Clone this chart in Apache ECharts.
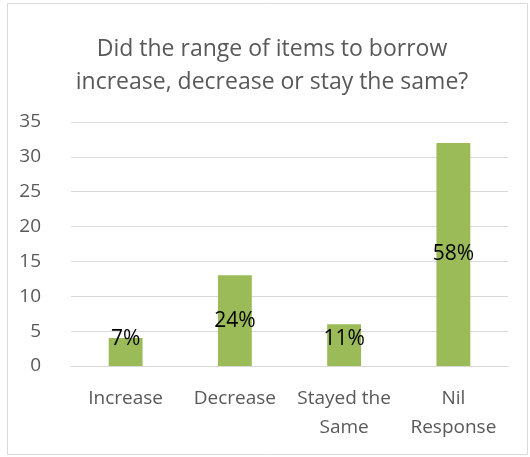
<!DOCTYPE html>
<html>
<head>
<meta charset="utf-8">
<script src="https://cdn.jsdelivr.net/npm/echarts@6/dist/echarts.min.js"></script>
<style>
  html, body { margin: 0; padding: 0; background: #fff; }
  #chart { width: 530px; height: 457px; }
</style>
</head>
<body>
<div id="chart"></div>
<script>
// Survey responses: change in the range of items to borrow
const categories = ['Increase', 'Decrease', 'Stayed the\nSame', 'Nil\nResponse'];
const counts = [4, 13, 6, 32];
const yTicks = [0, 5, 10, 15, 20, 25, 30, 35];

const total = counts.reduce((a, b) => a + b, 0);
const FONT = '"Open Sans", "Noto Sans", sans-serif';

// plot area geometry
const GRID = { left: 71, right: 22, top: 122, bottom: 91 };
const plotHeight = 457 - GRID.top - GRID.bottom;
const yMax = yTicks[yTicks.length - 1];

// keep short-bar labels clear of the baseline
const barData = counts.map(v => {
  const h = v / yMax * plotHeight;
  const lift = Math.max(h / 2, 27) - h / 2;
  return { value: v, label: { offset: [0, -lift] } };
});

const chart = echarts.init(document.getElementById('chart'));
chart.setOption({
  animation: false,
  backgroundColor: '#ffffff',
  title: {
    text: 'Did the range of items to borrow\nincrease, decrease or stay the same?',
    left: 267,
    top: 28,
    textAlign: 'center',
    textStyle: {
      fontFamily: FONT,
      fontSize: 23,
      fontWeight: 'normal',
      color: '#595959',
      lineHeight: 33
    }
  },
  graphic: [{
    type: 'rect',
    shape: { x: 7.5, y: 3.5, width: 520, height: 451 },
    style: { fill: 'none', stroke: '#d9d9d9', lineWidth: 1 },
    silent: true
  }],
  grid: Object.assign({ containLabel: false }, GRID),
  xAxis: {
    type: 'category',
    data: categories,
    axisLine: { show: true, lineStyle: { color: '#d9d9d9' } },
    axisTick: { show: false },
    axisLabel: {
      fontFamily: FONT,
      fontSize: 19,
      color: '#595959',
      lineHeight: 29,
      margin: 18,
      interval: 0
    }
  },
  yAxis: {
    type: 'value',
    min: yTicks[0],
    max: yMax,
    interval: yTicks[1] - yTicks[0],
    axisLine: { show: false },
    axisTick: { show: false },
    splitLine: { lineStyle: { color: '#d9d9d9', width: 1 } },
    axisLabel: {
      fontFamily: FONT,
      fontSize: 19,
      color: '#595959',
      margin: 30
    }
  },
  series: [{
    type: 'bar',
    data: barData,
    barWidth: '31%',
    itemStyle: { color: '#9bbb59' },
    label: {
      show: true,
      position: 'inside',
      fontFamily: FONT,
      fontSize: 21,
      color: '#000000',
      formatter: p => Math.round(p.value / total * 100) + '%'
    }
  }]
});
</script>
</body>
</html>
